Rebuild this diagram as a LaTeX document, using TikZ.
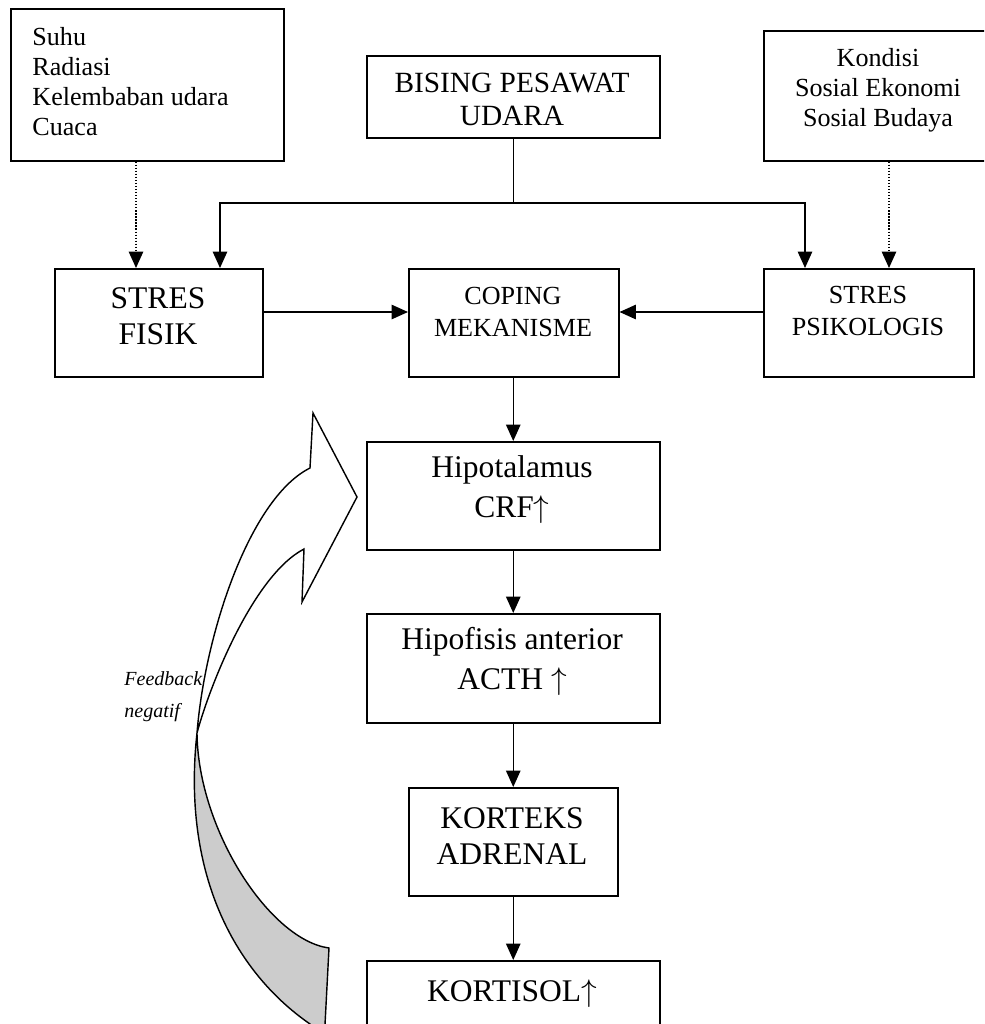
\documentclass[tikz,border=0pt]{standalone}
\usepackage{fontspec}
\setmainfont{Liberation Serif}
\usetikzlibrary{arrows.meta,calc}
\definecolor{ribbongrey}{HTML}{CCCCCC}
\begin{document}
\begin{tikzpicture}[x=0.46pt,y=-0.46pt,
  bx/.style={draw, line width=0.7pt, inner sep=0pt, anchor=north west},
  ln/.style={line width=0.65pt},
  arr/.style={ln, -{Triangle[length=7.5pt,width=6.6pt]}},
  dotarr/.style={line width=0.65pt, dash pattern=on 0.6pt off 0.8pt, -{Triangle[length=7.5pt,width=6.6pt]}},
  t12/.style={font=\fontsize{12}{13.8}\selectfont, align=center, inner sep=0pt},
  t12w/.style={font=\fontsize{12}{14.7}\selectfont, align=center, inner sep=0pt},
  tbis/.style={font=\fontsize{13.5}{15.2}\selectfont, align=center, inner sep=0pt},
  tbig/.style={font=\fontsize{14.5}{16.6}\selectfont, align=center, inner sep=0pt},
  tbigw/.style={font=\fontsize{14.5}{18.4}\selectfont, align=center, inner sep=0pt},
  ribbon/.style={line width=0.65pt, line join=miter}]
\useasboundingbox (0,0) rectangle (984,1024);
\clip (0,0) rectangle (984,1024);

% boxes
\node[bx, minimum width=273*0.46pt, minimum height=152*0.46pt] (suhu) at (10,8) {};
\node[bx, minimum width=293*0.46pt, minimum height=82*0.46pt] (bising) at (366,55) {};
\node[bx, minimum width=230*0.46pt, minimum height=130*0.46pt] (kondisi) at (763,30) {};
\node[bx, minimum width=208*0.46pt, minimum height=108*0.46pt] (fisik) at (54,268) {};
\node[bx, minimum width=210*0.46pt, minimum height=108*0.46pt] (coping) at (408,268) {};
\node[bx, minimum width=210*0.46pt, minimum height=108*0.46pt] (psiko) at (763,268) {};
\node[bx, minimum width=293*0.46pt, minimum height=108*0.46pt] (hipo) at (366,441) {};
\node[bx, minimum width=293*0.46pt, minimum height=109*0.46pt] (hipof) at (366,613) {};
\node[bx, minimum width=209*0.46pt, minimum height=108*0.46pt] (korteks) at (408,787) {};
\node[bx, minimum width=293*0.46pt, minimum height=90*0.46pt] (kortisol) at (366,960) {};

% texts
\node[t12, align=left, anchor=north west] (suhutxt) at (32,27) {Suhu\\Radiasi\\Kelembaban udara\\Cuaca};
\node[tbis] (bisingtxt) at (512,99) {BISING PESAWAT\\UDARA};
\node[t12] (kondisitxt) at (878,90) {Kondisi\\Sosial Ekonomi\\Sosial Budaya};
\node[tbig] (fisiktxt) at (158,316) {STRES\\FISIK};
\node[t12w] (copingtxt) at (513,312) {COPING\\MEKANISME};
\node[t12w] (psikotxt) at (868,311) {STRES\\PSIKOLOGIS};
\node[tbigw] (hipotxt) at (512,490) {Hipotalamus\\CRF$\uparrow$};
\node[tbigw] (hipoftxt) at (512,661) {Hipofisis anterior\\ACTH $\uparrow$};
\node[tbig] (kortekstxt) at (512,836) {KORTEKS\\ADRENAL};
\node[tbig] (kortisoltxt) at (512,994) {KORTISOL$\uparrow$};
\node[font=\fontsize{9.2}{14.7}\selectfont\itshape, align=left, anchor=west, inner sep=0pt] (fb) at (124,697) {Feedback\\negatif};

% helper coordinates
\coordinate (hy) at (0,312);
\coordinate (jy) at (0,203);
\coordinate (jl) at (220,0);
\coordinate (jr) at (805,0);
\coordinate (dl) at (136,0);
\coordinate (dr) at (889,0);
\coordinate (j) at (bising.south |- jy);

% connectors
\draw[ln] (bising.south) -- (j);
\draw[arr] (j) -| (fisik.north -| jl);
\draw[arr] (j) -| (psiko.north -| jr);
\draw[dotarr] (suhu.south -| dl) -- (fisik.north -| dl);
\draw[dotarr] (kondisi.south -| dr) -- (psiko.north -| dr);
\draw[arr] (fisik.east |- hy) -- (coping.west |- hy);
\draw[arr] (psiko.west |- hy) -- (coping.east |- hy);
\draw[arr] (hipo.north |- coping.south) -- (hipo.north);
\draw[arr] (hipo.south) -- (hipof.north);
\draw[arr] (hipof.south) -- (hipof.south |- korteks.north);
\draw[arr] (hipof.south |- korteks.south) -- (kortisol.north);

% feedback ribbon arrow
\filldraw[ribbon, fill=ribbongrey] (197,733) .. controls (182,870) and (232,970) .. (310,1024)
  -- (316,1040) -- (324.2,1040) -- (329,948) .. controls (270,940) and (198,830) .. (197,733) -- cycle;
\filldraw[ribbon, fill=white] (197,733) .. controls (205,633) and (250,498) .. (310,468)
  -- (313,413) -- (357,497) -- (302,602) -- (304,549)
  .. controls (254,575) and (210.5,683) .. (197,733) -- cycle;
\end{tikzpicture}
\end{document}
